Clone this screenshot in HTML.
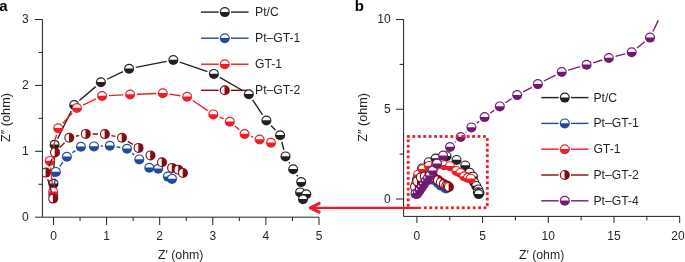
<!DOCTYPE html><html><head><meta charset="utf-8"><style>html,body{margin:0;padding:0;background:#fff;width:685px;height:262px;overflow:hidden}svg{display:block;will-change:transform}</style></head><body><svg width="685" height="262" viewBox="0 0 685 262" font-family="'Liberation Sans', sans-serif"><defs><clipPath id="ca"><rect x="42.9" y="0" width="280" height="216.5"/></clipPath><clipPath id="cb"><rect x="404" y="0" width="281" height="216"/></clipPath></defs><text x="-0.8" y="10.6" font-size="15" font-weight="bold" fill="#000">a</text><path d="M42.4,19.5 V217.2 H319" fill="none" stroke="#231f20" stroke-width="1"/><path d="M35,217.20 H42.4" stroke="#231f20" stroke-width="1"/><text x="28.8" y="221.10" font-size="12" text-anchor="end" fill="#231f20">0</text><path d="M35,151.30 H42.4" stroke="#231f20" stroke-width="1"/><text x="28.8" y="155.20" font-size="12" text-anchor="end" fill="#231f20">1</text><path d="M35,85.40 H42.4" stroke="#231f20" stroke-width="1"/><text x="28.8" y="89.30" font-size="12" text-anchor="end" fill="#231f20">2</text><path d="M35,19.50 H42.4" stroke="#231f20" stroke-width="1"/><text x="28.8" y="23.40" font-size="12" text-anchor="end" fill="#231f20">3</text><path d="M38.5,184.25 H42.4" stroke="#231f20" stroke-width="1"/><path d="M38.5,118.35 H42.4" stroke="#231f20" stroke-width="1"/><path d="M38.5,52.45 H42.4" stroke="#231f20" stroke-width="1"/><path d="M53.50,217.2 V225" stroke="#231f20" stroke-width="1"/><text x="53.50" y="240.1" font-size="12" text-anchor="middle" fill="#231f20">0</text><path d="M106.60,217.2 V225" stroke="#231f20" stroke-width="1"/><text x="106.60" y="240.1" font-size="12" text-anchor="middle" fill="#231f20">1</text><path d="M159.70,217.2 V225" stroke="#231f20" stroke-width="1"/><text x="159.70" y="240.1" font-size="12" text-anchor="middle" fill="#231f20">2</text><path d="M212.80,217.2 V225" stroke="#231f20" stroke-width="1"/><text x="212.80" y="240.1" font-size="12" text-anchor="middle" fill="#231f20">3</text><path d="M265.90,217.2 V225" stroke="#231f20" stroke-width="1"/><text x="265.90" y="240.1" font-size="12" text-anchor="middle" fill="#231f20">4</text><path d="M319.00,217.2 V225" stroke="#231f20" stroke-width="1"/><text x="319.00" y="240.1" font-size="12" text-anchor="middle" fill="#231f20">5</text><path d="M80.05,217.2 V221" stroke="#231f20" stroke-width="1"/><path d="M133.15,217.2 V221" stroke="#231f20" stroke-width="1"/><path d="M186.25,217.2 V221" stroke="#231f20" stroke-width="1"/><path d="M239.35,217.2 V221" stroke="#231f20" stroke-width="1"/><path d="M292.45,217.2 V221" stroke="#231f20" stroke-width="1"/><text x="180.7" y="259" font-size="12.3" text-anchor="middle" fill="#231f20">Z′ (ohm)</text><text transform="translate(10.3,117.5) rotate(-90)" font-size="12.7" text-anchor="middle" fill="#231f20">Z″ (ohm)</text><line x1="201" y1="12.1" x2="218.60000000000002" y2="12.1" stroke="#231f20" stroke-width="1.4"/><line x1="231.0" y1="12.1" x2="248.6" y2="12.1" stroke="#231f20" stroke-width="1.4"/><circle cx="224.80" cy="12.10" r="5.0" fill="#231f20"/><path d="M220.91,11.90 A3.90,3.90 0 0 1 228.69,11.90 Z" fill="#fff"/><text x="255.00" y="16.10" font-size="12.2" fill="#231f20">Pt/C</text><line x1="201" y1="38.2" x2="218.60000000000002" y2="38.2" stroke="#1f4aa0" stroke-width="1.4"/><line x1="231.0" y1="38.2" x2="248.6" y2="38.2" stroke="#1f4aa0" stroke-width="1.4"/><circle cx="224.80" cy="38.20" r="5.0" fill="#1f4aa0"/><path d="M220.91,38.00 A3.90,3.90 0 0 1 228.69,38.00 Z" fill="#fff"/><text x="255.00" y="42.20" font-size="12.2" fill="#231f20">Pt–GT-1</text><line x1="201" y1="64.2" x2="218.60000000000002" y2="64.2" stroke="#ec1f26" stroke-width="1.4"/><line x1="231.0" y1="64.2" x2="248.6" y2="64.2" stroke="#ec1f26" stroke-width="1.4"/><circle cx="224.80" cy="64.20" r="5.0" fill="#ec1f26"/><path d="M220.91,64.00 A3.90,3.90 0 0 1 228.69,64.00 Z" fill="#fff"/><text x="255.00" y="68.20" font-size="12.2" fill="#231f20">GT-1</text><line x1="201" y1="90.3" x2="218.60000000000002" y2="90.3" stroke="#850c12" stroke-width="1.4"/><line x1="231.0" y1="90.3" x2="248.6" y2="90.3" stroke="#850c12" stroke-width="1.4"/><circle cx="224.80" cy="90.30" r="5.0" fill="#850c12"/><path d="M224.50,86.41 A3.90,3.90 0 0 0 224.50,94.19 Z" fill="#fff"/><text x="255.00" y="94.30" font-size="12.2" fill="#231f20">Pt–GT-2</text><g clip-path="url(#ca)"><line x1="53.69" y1="176.90" x2="54.41" y2="151.60" stroke="#231f20" stroke-width="1.35"/><line x1="57.60" y1="138.70" x2="71.20" y2="111.10" stroke="#231f20" stroke-width="1.35"/><line x1="79.37" y1="100.58" x2="95.73" y2="86.62" stroke="#231f20" stroke-width="1.35"/><line x1="107.03" y1="79.26" x2="122.97" y2="71.64" stroke="#231f20" stroke-width="1.35"/><line x1="135.77" y1="67.39" x2="166.63" y2="61.31" stroke="#231f20" stroke-width="1.35"/><line x1="179.73" y1="62.20" x2="207.47" y2="71.70" stroke="#231f20" stroke-width="1.35"/><line x1="219.78" y1="77.32" x2="242.92" y2="90.78" stroke="#231f20" stroke-width="1.35"/><line x1="252.58" y1="99.85" x2="262.62" y2="114.85" stroke="#231f20" stroke-width="1.35"/><line x1="271.04" y1="125.47" x2="275.46" y2="130.23" stroke="#231f20" stroke-width="1.35"/><line x1="281.78" y1="141.79" x2="283.82" y2="149.81" stroke="#231f20" stroke-width="1.35"/><line x1="289.01" y1="162.23" x2="289.69" y2="163.37" stroke="#231f20" stroke-width="1.35"/><line x1="296.78" y1="174.98" x2="297.62" y2="176.32" stroke="#231f20" stroke-width="1.35"/><circle cx="53.50" cy="183.70" r="5.0" fill="#231f20"/><path d="M49.61,183.50 A3.90,3.90 0 0 1 57.39,183.50 Z" fill="#fff"/><circle cx="54.60" cy="144.80" r="5.0" fill="#231f20"/><path d="M50.71,144.60 A3.90,3.90 0 0 1 58.49,144.60 Z" fill="#fff"/><circle cx="74.20" cy="105.00" r="5.0" fill="#231f20"/><path d="M70.31,104.80 A3.90,3.90 0 0 1 78.09,104.80 Z" fill="#fff"/><circle cx="100.90" cy="82.20" r="5.0" fill="#231f20"/><path d="M97.01,82.00 A3.90,3.90 0 0 1 104.79,82.00 Z" fill="#fff"/><circle cx="129.10" cy="68.70" r="5.0" fill="#231f20"/><path d="M125.21,68.50 A3.90,3.90 0 0 1 132.99,68.50 Z" fill="#fff"/><circle cx="173.30" cy="60.00" r="5.0" fill="#231f20"/><path d="M169.41,59.80 A3.90,3.90 0 0 1 177.19,59.80 Z" fill="#fff"/><circle cx="213.90" cy="73.90" r="5.0" fill="#231f20"/><path d="M210.01,73.70 A3.90,3.90 0 0 1 217.79,73.70 Z" fill="#fff"/><circle cx="248.80" cy="94.20" r="5.0" fill="#231f20"/><path d="M244.91,94.00 A3.90,3.90 0 0 1 252.69,94.00 Z" fill="#fff"/><circle cx="266.40" cy="120.50" r="5.0" fill="#231f20"/><path d="M262.51,120.30 A3.90,3.90 0 0 1 270.29,120.30 Z" fill="#fff"/><circle cx="280.10" cy="135.20" r="5.0" fill="#231f20"/><path d="M276.21,135.00 A3.90,3.90 0 0 1 283.99,135.00 Z" fill="#fff"/><circle cx="285.50" cy="156.40" r="5.0" fill="#231f20"/><path d="M281.61,156.20 A3.90,3.90 0 0 1 289.39,156.20 Z" fill="#fff"/><circle cx="293.20" cy="169.20" r="5.0" fill="#231f20"/><path d="M289.31,169.00 A3.90,3.90 0 0 1 297.09,169.00 Z" fill="#fff"/><circle cx="301.20" cy="182.10" r="5.0" fill="#231f20"/><path d="M297.31,181.90 A3.90,3.90 0 0 1 305.09,181.90 Z" fill="#fff"/><circle cx="300.10" cy="192.40" r="5.0" fill="#231f20"/><path d="M296.21,192.20 A3.90,3.90 0 0 1 303.99,192.20 Z" fill="#fff"/><circle cx="306.30" cy="194.20" r="5.0" fill="#231f20"/><path d="M302.41,194.00 A3.90,3.90 0 0 1 310.19,194.00 Z" fill="#fff"/><circle cx="303.00" cy="199.20" r="5.0" fill="#231f20"/><path d="M299.11,199.00 A3.90,3.90 0 0 1 306.89,199.00 Z" fill="#fff"/><line x1="54.03" y1="188.24" x2="55.07" y2="178.66" stroke="#1f4aa0" stroke-width="1.35"/><line x1="59.81" y1="166.41" x2="62.89" y2="162.19" stroke="#1f4aa0" stroke-width="1.35"/><line x1="72.43" y1="152.75" x2="75.37" y2="150.65" stroke="#1f4aa0" stroke-width="1.35"/><line x1="100.79" y1="146.10" x2="103.01" y2="146.00" stroke="#1f4aa0" stroke-width="1.35"/><line x1="116.50" y1="146.87" x2="120.30" y2="147.53" stroke="#1f4aa0" stroke-width="1.35"/><line x1="132.13" y1="153.16" x2="134.17" y2="154.94" stroke="#1f4aa0" stroke-width="1.35"/><circle cx="53.30" cy="195.00" r="5.0" fill="#1f4aa0"/><path d="M49.41,194.80 A3.90,3.90 0 0 1 57.19,194.80 Z" fill="#fff"/><circle cx="55.80" cy="171.90" r="5.0" fill="#1f4aa0"/><path d="M51.91,171.70 A3.90,3.90 0 0 1 59.69,171.70 Z" fill="#fff"/><circle cx="66.90" cy="156.70" r="5.0" fill="#1f4aa0"/><path d="M63.01,156.50 A3.90,3.90 0 0 1 70.79,156.50 Z" fill="#fff"/><circle cx="80.90" cy="146.70" r="5.0" fill="#1f4aa0"/><path d="M77.01,146.50 A3.90,3.90 0 0 1 84.79,146.50 Z" fill="#fff"/><circle cx="94.00" cy="146.40" r="5.0" fill="#1f4aa0"/><path d="M90.11,146.20 A3.90,3.90 0 0 1 97.89,146.20 Z" fill="#fff"/><circle cx="109.80" cy="145.70" r="5.0" fill="#1f4aa0"/><path d="M105.91,145.50 A3.90,3.90 0 0 1 113.69,145.50 Z" fill="#fff"/><circle cx="127.00" cy="148.70" r="5.0" fill="#1f4aa0"/><path d="M123.11,148.50 A3.90,3.90 0 0 1 130.89,148.50 Z" fill="#fff"/><circle cx="139.30" cy="159.40" r="5.0" fill="#1f4aa0"/><path d="M135.41,159.20 A3.90,3.90 0 0 1 143.19,159.20 Z" fill="#fff"/><circle cx="149.30" cy="167.80" r="5.0" fill="#1f4aa0"/><path d="M145.41,167.60 A3.90,3.90 0 0 1 153.19,167.60 Z" fill="#fff"/><circle cx="158.20" cy="168.70" r="5.0" fill="#1f4aa0"/><path d="M154.31,168.50 A3.90,3.90 0 0 1 162.09,168.50 Z" fill="#fff"/><circle cx="167.90" cy="176.60" r="5.0" fill="#1f4aa0"/><path d="M164.01,176.40 A3.90,3.90 0 0 1 171.79,176.40 Z" fill="#fff"/><circle cx="172.00" cy="178.90" r="5.0" fill="#1f4aa0"/><path d="M168.11,178.70 A3.90,3.90 0 0 1 175.89,178.70 Z" fill="#fff"/><line x1="52.45" y1="184.94" x2="50.55" y2="167.66" stroke="#ec1f26" stroke-width="1.35"/><line x1="51.49" y1="154.31" x2="56.51" y2="134.79" stroke="#ec1f26" stroke-width="1.35"/><line x1="62.82" y1="123.21" x2="72.28" y2="112.99" stroke="#ec1f26" stroke-width="1.35"/><line x1="83.04" y1="105.08" x2="95.96" y2="98.92" stroke="#ec1f26" stroke-width="1.35"/><line x1="108.89" y1="95.64" x2="123.31" y2="94.86" stroke="#ec1f26" stroke-width="1.35"/><line x1="136.89" y1="94.23" x2="156.01" y2="93.47" stroke="#ec1f26" stroke-width="1.35"/><line x1="169.53" y1="94.17" x2="180.37" y2="95.73" stroke="#ec1f26" stroke-width="1.35"/><line x1="192.73" y1="100.51" x2="207.67" y2="110.59" stroke="#ec1f26" stroke-width="1.35"/><line x1="219.52" y1="117.15" x2="223.58" y2="118.95" stroke="#ec1f26" stroke-width="1.35"/><line x1="235.03" y1="126.05" x2="239.37" y2="129.65" stroke="#ec1f26" stroke-width="1.35"/><line x1="250.98" y1="136.34" x2="253.22" y2="137.16" stroke="#ec1f26" stroke-width="1.35"/><circle cx="53.20" cy="191.70" r="5.0" fill="#ec1f26"/><path d="M49.31,191.50 A3.90,3.90 0 0 1 57.09,191.50 Z" fill="#fff"/><circle cx="49.80" cy="160.90" r="5.0" fill="#ec1f26"/><path d="M45.91,160.70 A3.90,3.90 0 0 1 53.69,160.70 Z" fill="#fff"/><circle cx="58.20" cy="128.20" r="5.0" fill="#ec1f26"/><path d="M54.31,128.00 A3.90,3.90 0 0 1 62.09,128.00 Z" fill="#fff"/><circle cx="76.90" cy="108.00" r="5.0" fill="#ec1f26"/><path d="M73.01,107.80 A3.90,3.90 0 0 1 80.79,107.80 Z" fill="#fff"/><circle cx="102.10" cy="96.00" r="5.0" fill="#ec1f26"/><path d="M98.21,95.80 A3.90,3.90 0 0 1 105.99,95.80 Z" fill="#fff"/><circle cx="130.10" cy="94.50" r="5.0" fill="#ec1f26"/><path d="M126.21,94.30 A3.90,3.90 0 0 1 133.99,94.30 Z" fill="#fff"/><circle cx="162.80" cy="93.20" r="5.0" fill="#ec1f26"/><path d="M158.91,93.00 A3.90,3.90 0 0 1 166.69,93.00 Z" fill="#fff"/><circle cx="187.10" cy="96.70" r="5.0" fill="#ec1f26"/><path d="M183.21,96.50 A3.90,3.90 0 0 1 190.99,96.50 Z" fill="#fff"/><circle cx="213.30" cy="114.40" r="5.0" fill="#ec1f26"/><path d="M209.41,114.20 A3.90,3.90 0 0 1 217.19,114.20 Z" fill="#fff"/><circle cx="229.80" cy="121.70" r="5.0" fill="#ec1f26"/><path d="M225.91,121.50 A3.90,3.90 0 0 1 233.69,121.50 Z" fill="#fff"/><circle cx="244.60" cy="134.00" r="5.0" fill="#ec1f26"/><path d="M240.71,133.80 A3.90,3.90 0 0 1 248.49,133.80 Z" fill="#fff"/><circle cx="259.60" cy="139.50" r="5.0" fill="#ec1f26"/><path d="M255.71,139.30 A3.90,3.90 0 0 1 263.49,139.30 Z" fill="#fff"/><circle cx="271.00" cy="142.80" r="5.0" fill="#ec1f26"/><path d="M267.11,142.60 A3.90,3.90 0 0 1 274.89,142.60 Z" fill="#fff"/><line x1="51.36" y1="192.05" x2="47.74" y2="179.15" stroke="#850c12" stroke-width="1.35"/><line x1="48.69" y1="166.40" x2="52.21" y2="158.60" stroke="#850c12" stroke-width="1.35"/><line x1="59.76" y1="147.54" x2="64.54" y2="142.66" stroke="#850c12" stroke-width="1.35"/><line x1="75.92" y1="136.24" x2="79.18" y2="135.46" stroke="#850c12" stroke-width="1.35"/><line x1="92.60" y1="133.97" x2="98.10" y2="134.03" stroke="#850c12" stroke-width="1.35"/><line x1="111.55" y1="135.54" x2="115.35" y2="136.36" stroke="#850c12" stroke-width="1.35"/><line x1="127.81" y1="141.33" x2="132.79" y2="144.37" stroke="#850c12" stroke-width="1.35"/><circle cx="53.20" cy="198.60" r="5.0" fill="#850c12"/><path d="M52.90,194.71 A3.90,3.90 0 0 0 52.90,202.49 Z" fill="#fff"/><circle cx="45.90" cy="172.60" r="5.0" fill="#850c12"/><path d="M45.60,168.71 A3.90,3.90 0 0 0 45.60,176.49 Z" fill="#fff"/><circle cx="55.00" cy="152.40" r="5.0" fill="#850c12"/><path d="M54.70,148.51 A3.90,3.90 0 0 0 54.70,156.29 Z" fill="#fff"/><circle cx="69.30" cy="137.80" r="5.0" fill="#850c12"/><path d="M69.00,133.91 A3.90,3.90 0 0 0 69.00,141.69 Z" fill="#fff"/><circle cx="85.80" cy="133.90" r="5.0" fill="#850c12"/><path d="M85.50,130.01 A3.90,3.90 0 0 0 85.50,137.79 Z" fill="#fff"/><circle cx="104.90" cy="134.10" r="5.0" fill="#850c12"/><path d="M104.60,130.21 A3.90,3.90 0 0 0 104.60,137.99 Z" fill="#fff"/><circle cx="122.00" cy="137.80" r="5.0" fill="#850c12"/><path d="M121.70,133.91 A3.90,3.90 0 0 0 121.70,141.69 Z" fill="#fff"/><circle cx="138.60" cy="147.90" r="5.0" fill="#850c12"/><path d="M138.30,144.01 A3.90,3.90 0 0 0 138.30,151.79 Z" fill="#fff"/><circle cx="150.50" cy="155.40" r="5.0" fill="#850c12"/><path d="M150.20,151.51 A3.90,3.90 0 0 0 150.20,159.29 Z" fill="#fff"/><circle cx="162.00" cy="162.30" r="5.0" fill="#850c12"/><path d="M161.70,158.41 A3.90,3.90 0 0 0 161.70,166.19 Z" fill="#fff"/><circle cx="172.10" cy="167.90" r="5.0" fill="#850c12"/><path d="M171.80,164.01 A3.90,3.90 0 0 0 171.80,171.79 Z" fill="#fff"/><circle cx="178.50" cy="169.70" r="5.0" fill="#850c12"/><path d="M178.20,165.81 A3.90,3.90 0 0 0 178.20,173.59 Z" fill="#fff"/><circle cx="183.00" cy="173.00" r="5.0" fill="#850c12"/><path d="M182.70,169.11 A3.90,3.90 0 0 0 182.70,176.89 Z" fill="#fff"/></g><text x="354.7" y="10.6" font-size="15" font-weight="bold" fill="#000">b</text><path d="M403.6,19.5 V216.4 H680" fill="none" stroke="#231f20" stroke-width="1"/><path d="M396,199.00 H403.6" stroke="#231f20" stroke-width="1"/><text x="390.7" y="202.90" font-size="12" text-anchor="end" fill="#231f20">0</text><path d="M396,109.25 H403.6" stroke="#231f20" stroke-width="1"/><text x="390.7" y="113.15" font-size="12" text-anchor="end" fill="#231f20">5</text><path d="M396,19.50 H403.6" stroke="#231f20" stroke-width="1"/><text x="390.7" y="23.40" font-size="12" text-anchor="end" fill="#231f20">10</text><path d="M399.6,154.12 H403.6" stroke="#231f20" stroke-width="1"/><path d="M399.6,64.38 H403.6" stroke="#231f20" stroke-width="1"/><path d="M416.90,216.4 V223" stroke="#231f20" stroke-width="1"/><text x="416.90" y="240.1" font-size="12" text-anchor="middle" fill="#231f20">0</text><path d="M482.60,216.4 V223" stroke="#231f20" stroke-width="1"/><text x="482.60" y="240.1" font-size="12" text-anchor="middle" fill="#231f20">5</text><path d="M548.30,216.4 V223" stroke="#231f20" stroke-width="1"/><text x="548.30" y="240.1" font-size="12" text-anchor="middle" fill="#231f20">10</text><path d="M614.00,216.4 V223" stroke="#231f20" stroke-width="1"/><text x="614.00" y="240.1" font-size="12" text-anchor="middle" fill="#231f20">15</text><path d="M679.70,216.4 V223" stroke="#231f20" stroke-width="1"/><text x="684.6" y="240.1" font-size="12" text-anchor="end" fill="#231f20">20</text><path d="M449.75,216.4 V220.4" stroke="#231f20" stroke-width="1"/><path d="M515.45,216.4 V220.4" stroke="#231f20" stroke-width="1"/><path d="M581.15,216.4 V220.4" stroke="#231f20" stroke-width="1"/><path d="M646.85,216.4 V220.4" stroke="#231f20" stroke-width="1"/><text x="541.6" y="259" font-size="12.3" text-anchor="middle" fill="#231f20">Z′ (ohm)</text><text transform="translate(366.8,117.4) rotate(-90)" font-size="12.7" text-anchor="middle" fill="#231f20">Z″ (ohm)</text><line x1="541.2" y1="97.6" x2="558.5999999999999" y2="97.6" stroke="#231f20" stroke-width="1.4"/><line x1="571.0" y1="97.6" x2="588.4" y2="97.6" stroke="#231f20" stroke-width="1.4"/><circle cx="564.80" cy="97.60" r="5.0" fill="#231f20"/><path d="M560.91,97.40 A3.90,3.90 0 0 1 568.69,97.40 Z" fill="#fff"/><text x="593.40" y="101.60" font-size="12.2" fill="#231f20">Pt/C</text><line x1="541.2" y1="123.4" x2="558.5999999999999" y2="123.4" stroke="#1f4aa0" stroke-width="1.4"/><line x1="571.0" y1="123.4" x2="588.4" y2="123.4" stroke="#1f4aa0" stroke-width="1.4"/><circle cx="564.80" cy="123.40" r="5.0" fill="#1f4aa0"/><path d="M560.91,123.20 A3.90,3.90 0 0 1 568.69,123.20 Z" fill="#fff"/><text x="593.40" y="127.40" font-size="12.2" fill="#231f20">Pt–GT-1</text><line x1="541.2" y1="149.2" x2="558.5999999999999" y2="149.2" stroke="#ec1f26" stroke-width="1.4"/><line x1="571.0" y1="149.2" x2="588.4" y2="149.2" stroke="#ec1f26" stroke-width="1.4"/><circle cx="564.80" cy="149.20" r="5.0" fill="#ec1f26"/><path d="M560.91,149.00 A3.90,3.90 0 0 1 568.69,149.00 Z" fill="#fff"/><text x="593.40" y="153.20" font-size="12.2" fill="#231f20">GT-1</text><line x1="541.2" y1="175.0" x2="558.5999999999999" y2="175.0" stroke="#850c12" stroke-width="1.4"/><line x1="571.0" y1="175.0" x2="588.4" y2="175.0" stroke="#850c12" stroke-width="1.4"/><circle cx="564.80" cy="175.00" r="5.0" fill="#850c12"/><path d="M564.50,171.11 A3.90,3.90 0 0 0 564.50,178.89 Z" fill="#fff"/><text x="593.40" y="179.00" font-size="12.2" fill="#231f20">Pt–GT-2</text><line x1="541.2" y1="200.8" x2="558.5999999999999" y2="200.8" stroke="#721a72" stroke-width="1.4"/><line x1="571.0" y1="200.8" x2="588.4" y2="200.8" stroke="#721a72" stroke-width="1.4"/><circle cx="564.80" cy="200.80" r="5.0" fill="#721a72"/><path d="M560.91,200.60 A3.90,3.90 0 0 1 568.69,200.60 Z" fill="#fff"/><text x="593.40" y="204.80" font-size="12.2" fill="#231f20">Pt–GT-4</text><g clip-path="url(#cb)"><circle cx="416.90" cy="189.88" r="5.0" fill="#231f20"/><path d="M413.01,189.68 A3.90,3.90 0 0 1 420.79,189.68 Z" fill="#fff"/><circle cx="417.17" cy="179.28" r="5.0" fill="#231f20"/><path d="M413.28,179.08 A3.90,3.90 0 0 1 421.07,179.08 Z" fill="#fff"/><circle cx="422.02" cy="168.44" r="5.0" fill="#231f20"/><path d="M418.13,168.24 A3.90,3.90 0 0 1 425.92,168.24 Z" fill="#fff"/><circle cx="428.63" cy="162.23" r="5.0" fill="#231f20"/><path d="M424.73,162.03 A3.90,3.90 0 0 1 432.52,162.03 Z" fill="#fff"/><circle cx="435.61" cy="158.55" r="5.0" fill="#231f20"/><path d="M431.71,158.35 A3.90,3.90 0 0 1 439.50,158.35 Z" fill="#fff"/><circle cx="446.55" cy="156.18" r="5.0" fill="#231f20"/><path d="M442.65,155.98 A3.90,3.90 0 0 1 450.44,155.98 Z" fill="#fff"/><circle cx="456.59" cy="159.97" r="5.0" fill="#231f20"/><path d="M452.70,159.77 A3.90,3.90 0 0 1 460.49,159.77 Z" fill="#fff"/><circle cx="465.23" cy="165.50" r="5.0" fill="#231f20"/><path d="M461.33,165.30 A3.90,3.90 0 0 1 469.12,165.30 Z" fill="#fff"/><circle cx="469.58" cy="172.66" r="5.0" fill="#231f20"/><path d="M465.69,172.46 A3.90,3.90 0 0 1 473.48,172.46 Z" fill="#fff"/><circle cx="472.97" cy="176.66" r="5.0" fill="#231f20"/><path d="M469.08,176.46 A3.90,3.90 0 0 1 476.87,176.46 Z" fill="#fff"/><circle cx="474.31" cy="182.44" r="5.0" fill="#231f20"/><path d="M470.42,182.24 A3.90,3.90 0 0 1 478.21,182.24 Z" fill="#fff"/><circle cx="476.22" cy="185.93" r="5.0" fill="#231f20"/><path d="M472.32,185.73 A3.90,3.90 0 0 1 480.11,185.73 Z" fill="#fff"/><circle cx="478.20" cy="189.44" r="5.0" fill="#231f20"/><path d="M474.30,189.24 A3.90,3.90 0 0 1 482.09,189.24 Z" fill="#fff"/><circle cx="477.92" cy="192.24" r="5.0" fill="#231f20"/><path d="M474.03,192.04 A3.90,3.90 0 0 1 481.82,192.04 Z" fill="#fff"/><circle cx="479.46" cy="192.74" r="5.0" fill="#231f20"/><path d="M475.56,192.54 A3.90,3.90 0 0 1 483.35,192.54 Z" fill="#fff"/><circle cx="478.64" cy="194.10" r="5.0" fill="#231f20"/><path d="M474.75,193.90 A3.90,3.90 0 0 1 482.54,193.90 Z" fill="#fff"/><circle cx="416.85" cy="192.95" r="5.0" fill="#1f4aa0"/><path d="M412.96,192.75 A3.90,3.90 0 0 1 420.75,192.75 Z" fill="#fff"/><circle cx="417.47" cy="186.66" r="5.0" fill="#1f4aa0"/><path d="M413.57,186.46 A3.90,3.90 0 0 1 421.36,186.46 Z" fill="#fff"/><circle cx="420.22" cy="182.52" r="5.0" fill="#1f4aa0"/><path d="M416.32,182.32 A3.90,3.90 0 0 1 424.11,182.32 Z" fill="#fff"/><circle cx="423.68" cy="179.80" r="5.0" fill="#1f4aa0"/><path d="M419.79,179.60 A3.90,3.90 0 0 1 427.58,179.60 Z" fill="#fff"/><circle cx="426.92" cy="179.72" r="5.0" fill="#1f4aa0"/><path d="M423.03,179.52 A3.90,3.90 0 0 1 430.82,179.52 Z" fill="#fff"/><circle cx="430.83" cy="179.52" r="5.0" fill="#1f4aa0"/><path d="M426.94,179.32 A3.90,3.90 0 0 1 434.73,179.32 Z" fill="#fff"/><circle cx="435.09" cy="180.34" r="5.0" fill="#1f4aa0"/><path d="M431.19,180.14 A3.90,3.90 0 0 1 438.98,180.14 Z" fill="#fff"/><circle cx="438.13" cy="183.26" r="5.0" fill="#1f4aa0"/><path d="M434.24,183.06 A3.90,3.90 0 0 1 442.03,183.06 Z" fill="#fff"/><circle cx="440.61" cy="185.54" r="5.0" fill="#1f4aa0"/><path d="M436.71,185.34 A3.90,3.90 0 0 1 444.50,185.34 Z" fill="#fff"/><circle cx="442.81" cy="185.79" r="5.0" fill="#1f4aa0"/><path d="M438.91,185.59 A3.90,3.90 0 0 1 446.70,185.59 Z" fill="#fff"/><circle cx="445.21" cy="187.94" r="5.0" fill="#1f4aa0"/><path d="M441.31,187.74 A3.90,3.90 0 0 1 449.10,187.74 Z" fill="#fff"/><circle cx="446.22" cy="188.57" r="5.0" fill="#1f4aa0"/><path d="M442.33,188.37 A3.90,3.90 0 0 1 450.12,188.37 Z" fill="#fff"/><circle cx="416.83" cy="192.05" r="5.0" fill="#ec1f26"/><path d="M412.93,191.85 A3.90,3.90 0 0 1 420.72,191.85 Z" fill="#fff"/><circle cx="415.98" cy="183.66" r="5.0" fill="#ec1f26"/><path d="M412.09,183.46 A3.90,3.90 0 0 1 419.88,183.46 Z" fill="#fff"/><circle cx="418.06" cy="174.76" r="5.0" fill="#ec1f26"/><path d="M414.17,174.56 A3.90,3.90 0 0 1 421.96,174.56 Z" fill="#fff"/><circle cx="422.69" cy="169.26" r="5.0" fill="#ec1f26"/><path d="M418.80,169.06 A3.90,3.90 0 0 1 426.59,169.06 Z" fill="#fff"/><circle cx="428.93" cy="165.99" r="5.0" fill="#ec1f26"/><path d="M425.03,165.79 A3.90,3.90 0 0 1 432.82,165.79 Z" fill="#fff"/><circle cx="435.86" cy="165.58" r="5.0" fill="#ec1f26"/><path d="M431.96,165.38 A3.90,3.90 0 0 1 439.75,165.38 Z" fill="#fff"/><circle cx="443.95" cy="165.22" r="5.0" fill="#ec1f26"/><path d="M440.05,165.02 A3.90,3.90 0 0 1 447.84,165.02 Z" fill="#fff"/><circle cx="449.96" cy="166.18" r="5.0" fill="#ec1f26"/><path d="M446.07,165.98 A3.90,3.90 0 0 1 453.86,165.98 Z" fill="#fff"/><circle cx="456.44" cy="171.00" r="5.0" fill="#ec1f26"/><path d="M452.55,170.80 A3.90,3.90 0 0 1 460.34,170.80 Z" fill="#fff"/><circle cx="460.53" cy="172.99" r="5.0" fill="#ec1f26"/><path d="M456.63,172.79 A3.90,3.90 0 0 1 464.42,172.79 Z" fill="#fff"/><circle cx="464.19" cy="176.34" r="5.0" fill="#ec1f26"/><path d="M460.29,176.14 A3.90,3.90 0 0 1 468.08,176.14 Z" fill="#fff"/><circle cx="467.90" cy="177.84" r="5.0" fill="#ec1f26"/><path d="M464.01,177.64 A3.90,3.90 0 0 1 471.80,177.64 Z" fill="#fff"/><circle cx="470.72" cy="178.73" r="5.0" fill="#ec1f26"/><path d="M466.83,178.53 A3.90,3.90 0 0 1 474.62,178.53 Z" fill="#fff"/><circle cx="416.83" cy="193.93" r="5.0" fill="#850c12"/><path d="M416.53,190.05 A3.90,3.90 0 0 0 416.53,197.82 Z" fill="#fff"/><circle cx="415.02" cy="186.85" r="5.0" fill="#850c12"/><path d="M414.72,182.96 A3.90,3.90 0 0 0 414.72,190.74 Z" fill="#fff"/><circle cx="417.27" cy="181.35" r="5.0" fill="#850c12"/><path d="M416.97,177.46 A3.90,3.90 0 0 0 416.97,185.24 Z" fill="#fff"/><circle cx="420.81" cy="177.37" r="5.0" fill="#850c12"/><path d="M420.51,173.48 A3.90,3.90 0 0 0 420.51,181.26 Z" fill="#fff"/><circle cx="424.89" cy="176.31" r="5.0" fill="#850c12"/><path d="M424.59,172.42 A3.90,3.90 0 0 0 424.59,180.20 Z" fill="#fff"/><circle cx="429.62" cy="176.37" r="5.0" fill="#850c12"/><path d="M429.32,172.48 A3.90,3.90 0 0 0 429.32,180.25 Z" fill="#fff"/><circle cx="433.85" cy="177.37" r="5.0" fill="#850c12"/><path d="M433.55,173.48 A3.90,3.90 0 0 0 433.55,181.26 Z" fill="#fff"/><circle cx="437.96" cy="180.12" r="5.0" fill="#850c12"/><path d="M437.66,176.24 A3.90,3.90 0 0 0 437.66,184.01 Z" fill="#fff"/><circle cx="440.90" cy="182.17" r="5.0" fill="#850c12"/><path d="M440.60,178.28 A3.90,3.90 0 0 0 440.60,186.06 Z" fill="#fff"/><circle cx="443.75" cy="184.05" r="5.0" fill="#850c12"/><path d="M443.45,180.16 A3.90,3.90 0 0 0 443.45,187.93 Z" fill="#fff"/><circle cx="446.25" cy="185.57" r="5.0" fill="#850c12"/><path d="M445.95,181.68 A3.90,3.90 0 0 0 445.95,189.46 Z" fill="#fff"/><circle cx="447.83" cy="186.06" r="5.0" fill="#850c12"/><path d="M447.53,182.17 A3.90,3.90 0 0 0 447.53,189.95 Z" fill="#fff"/><circle cx="448.95" cy="186.96" r="5.0" fill="#850c12"/><path d="M448.65,183.07 A3.90,3.90 0 0 0 448.65,190.85 Z" fill="#fff"/><line x1="454.97" y1="142.36" x2="455.73" y2="141.64" stroke="#721a72" stroke-width="1.35"/><line x1="465.76" y1="132.46" x2="466.34" y2="131.94" stroke="#721a72" stroke-width="1.35"/><line x1="476.76" y1="123.22" x2="479.24" y2="121.28" stroke="#721a72" stroke-width="1.35"/><line x1="490.16" y1="113.19" x2="494.24" y2="110.31" stroke="#721a72" stroke-width="1.35"/><line x1="505.50" y1="102.70" x2="511.50" y2="98.80" stroke="#721a72" stroke-width="1.35"/><line x1="523.20" y1="91.91" x2="531.90" y2="87.29" stroke="#721a72" stroke-width="1.35"/><line x1="543.96" y1="81.02" x2="555.64" y2="75.08" stroke="#721a72" stroke-width="1.35"/><line x1="568.23" y1="70.11" x2="580.07" y2="66.69" stroke="#721a72" stroke-width="1.35"/><line x1="593.10" y1="62.81" x2="602.30" y2="59.99" stroke="#721a72" stroke-width="1.35"/><line x1="615.39" y1="56.33" x2="625.11" y2="53.87" stroke="#721a72" stroke-width="1.35"/><line x1="637.02" y1="47.96" x2="644.68" y2="41.84" stroke="#721a72" stroke-width="1.35"/><line x1="652.96" y1="31.48" x2="658.30" y2="20.40" stroke="#721a72" stroke-width="1.35"/><circle cx="415.50" cy="193.80" r="5.0" fill="#721a72"/><path d="M411.61,193.60 A3.90,3.90 0 0 1 419.39,193.60 Z" fill="#fff"/><circle cx="417.80" cy="193.00" r="5.0" fill="#721a72"/><path d="M413.91,192.80 A3.90,3.90 0 0 1 421.69,192.80 Z" fill="#fff"/><circle cx="419.80" cy="190.10" r="5.0" fill="#721a72"/><path d="M415.91,189.90 A3.90,3.90 0 0 1 423.69,189.90 Z" fill="#fff"/><circle cx="421.90" cy="187.10" r="5.0" fill="#721a72"/><path d="M418.01,186.90 A3.90,3.90 0 0 1 425.79,186.90 Z" fill="#fff"/><circle cx="423.90" cy="184.20" r="5.0" fill="#721a72"/><path d="M420.01,184.00 A3.90,3.90 0 0 1 427.79,184.00 Z" fill="#fff"/><circle cx="425.90" cy="181.30" r="5.0" fill="#721a72"/><path d="M422.01,181.10 A3.90,3.90 0 0 1 429.79,181.10 Z" fill="#fff"/><circle cx="427.90" cy="178.40" r="5.0" fill="#721a72"/><path d="M424.01,178.20 A3.90,3.90 0 0 1 431.79,178.20 Z" fill="#fff"/><circle cx="430.00" cy="175.40" r="5.0" fill="#721a72"/><path d="M426.11,175.20 A3.90,3.90 0 0 1 433.89,175.20 Z" fill="#fff"/><circle cx="432.70" cy="170.60" r="5.0" fill="#721a72"/><path d="M428.81,170.40 A3.90,3.90 0 0 1 436.59,170.40 Z" fill="#fff"/><circle cx="437.00" cy="163.60" r="5.0" fill="#721a72"/><path d="M433.11,163.40 A3.90,3.90 0 0 1 440.89,163.40 Z" fill="#fff"/><circle cx="443.10" cy="155.60" r="5.0" fill="#721a72"/><path d="M439.21,155.40 A3.90,3.90 0 0 1 446.99,155.40 Z" fill="#fff"/><circle cx="450.00" cy="147.00" r="5.0" fill="#721a72"/><path d="M446.11,146.80 A3.90,3.90 0 0 1 453.89,146.80 Z" fill="#fff"/><circle cx="460.70" cy="137.00" r="5.0" fill="#721a72"/><path d="M456.81,136.80 A3.90,3.90 0 0 1 464.59,136.80 Z" fill="#fff"/><circle cx="471.40" cy="127.40" r="5.0" fill="#721a72"/><path d="M467.51,127.20 A3.90,3.90 0 0 1 475.29,127.20 Z" fill="#fff"/><circle cx="484.60" cy="117.10" r="5.0" fill="#721a72"/><path d="M480.71,116.90 A3.90,3.90 0 0 1 488.49,116.90 Z" fill="#fff"/><circle cx="499.80" cy="106.40" r="5.0" fill="#721a72"/><path d="M495.91,106.20 A3.90,3.90 0 0 1 503.69,106.20 Z" fill="#fff"/><circle cx="517.20" cy="95.10" r="5.0" fill="#721a72"/><path d="M513.31,94.90 A3.90,3.90 0 0 1 521.09,94.90 Z" fill="#fff"/><circle cx="537.90" cy="84.10" r="5.0" fill="#721a72"/><path d="M534.01,83.90 A3.90,3.90 0 0 1 541.79,83.90 Z" fill="#fff"/><circle cx="561.70" cy="72.00" r="5.0" fill="#721a72"/><path d="M557.81,71.80 A3.90,3.90 0 0 1 565.59,71.80 Z" fill="#fff"/><circle cx="586.60" cy="64.80" r="5.0" fill="#721a72"/><path d="M582.71,64.60 A3.90,3.90 0 0 1 590.49,64.60 Z" fill="#fff"/><circle cx="608.80" cy="58.00" r="5.0" fill="#721a72"/><path d="M604.91,57.80 A3.90,3.90 0 0 1 612.69,57.80 Z" fill="#fff"/><circle cx="631.70" cy="52.20" r="5.0" fill="#721a72"/><path d="M627.81,52.00 A3.90,3.90 0 0 1 635.59,52.00 Z" fill="#fff"/><circle cx="650.00" cy="37.60" r="5.0" fill="#721a72"/><path d="M646.11,37.40 A3.90,3.90 0 0 1 653.89,37.40 Z" fill="#fff"/></g><g fill="#ec1f26"><rect x="407.00" y="135.10" width="2.8" height="2.8"/><rect x="412.43" y="135.10" width="2.8" height="2.8"/><rect x="417.86" y="135.10" width="2.8" height="2.8"/><rect x="423.29" y="135.10" width="2.8" height="2.8"/><rect x="428.72" y="135.10" width="2.8" height="2.8"/><rect x="434.15" y="135.10" width="2.8" height="2.8"/><rect x="439.58" y="135.10" width="2.8" height="2.8"/><rect x="445.01" y="135.10" width="2.8" height="2.8"/><rect x="450.44" y="135.10" width="2.8" height="2.8"/><rect x="455.87" y="135.10" width="2.8" height="2.8"/><rect x="461.30" y="135.10" width="2.8" height="2.8"/><rect x="466.73" y="135.10" width="2.8" height="2.8"/><rect x="472.16" y="135.10" width="2.8" height="2.8"/><rect x="477.59" y="135.10" width="2.8" height="2.8"/><rect x="483.02" y="135.10" width="2.8" height="2.8"/><rect x="485.90" y="138.10" width="2.8" height="2.8"/><rect x="485.90" y="143.52" width="2.8" height="2.8"/><rect x="485.90" y="148.93" width="2.8" height="2.8"/><rect x="485.90" y="154.35" width="2.8" height="2.8"/><rect x="485.90" y="159.77" width="2.8" height="2.8"/><rect x="485.90" y="165.19" width="2.8" height="2.8"/><rect x="485.90" y="170.60" width="2.8" height="2.8"/><rect x="485.90" y="176.02" width="2.8" height="2.8"/><rect x="485.90" y="181.44" width="2.8" height="2.8"/><rect x="485.90" y="186.85" width="2.8" height="2.8"/><rect x="485.90" y="192.27" width="2.8" height="2.8"/><rect x="485.90" y="197.69" width="2.8" height="2.8"/><rect x="485.90" y="203.10" width="2.8" height="2.8"/><rect x="483.60" y="206.40" width="2.8" height="2.8"/><rect x="478.18" y="206.40" width="2.8" height="2.8"/><rect x="472.76" y="206.40" width="2.8" height="2.8"/><rect x="467.34" y="206.40" width="2.8" height="2.8"/><rect x="461.92" y="206.40" width="2.8" height="2.8"/><rect x="456.50" y="206.40" width="2.8" height="2.8"/><rect x="451.08" y="206.40" width="2.8" height="2.8"/><rect x="445.66" y="206.40" width="2.8" height="2.8"/><rect x="440.24" y="206.40" width="2.8" height="2.8"/><rect x="434.82" y="206.40" width="2.8" height="2.8"/><rect x="429.40" y="206.40" width="2.8" height="2.8"/><rect x="423.98" y="206.40" width="2.8" height="2.8"/><rect x="406.80" y="139.40" width="2.8" height="2.8"/><rect x="406.80" y="144.77" width="2.8" height="2.8"/><rect x="406.80" y="150.14" width="2.8" height="2.8"/><rect x="406.80" y="155.51" width="2.8" height="2.8"/><rect x="406.80" y="160.88" width="2.8" height="2.8"/><rect x="406.80" y="166.25" width="2.8" height="2.8"/><rect x="406.80" y="171.62" width="2.8" height="2.8"/><rect x="406.80" y="176.99" width="2.8" height="2.8"/><rect x="406.80" y="182.36" width="2.8" height="2.8"/><rect x="406.80" y="187.73" width="2.8" height="2.8"/><rect x="406.80" y="193.10" width="2.8" height="2.8"/><rect x="406.80" y="198.47" width="2.8" height="2.8"/><rect x="406.80" y="203.84" width="2.8" height="2.8"/></g><path d="M421.1,207.9 H311" stroke="#ec1f26" stroke-width="2.3"/><path d="M319.2,203.4 L310.2,207.8 L319.2,212.2" fill="none" stroke="#ec1f26" stroke-width="3" stroke-linecap="round" stroke-linejoin="round"/></svg></body></html>
